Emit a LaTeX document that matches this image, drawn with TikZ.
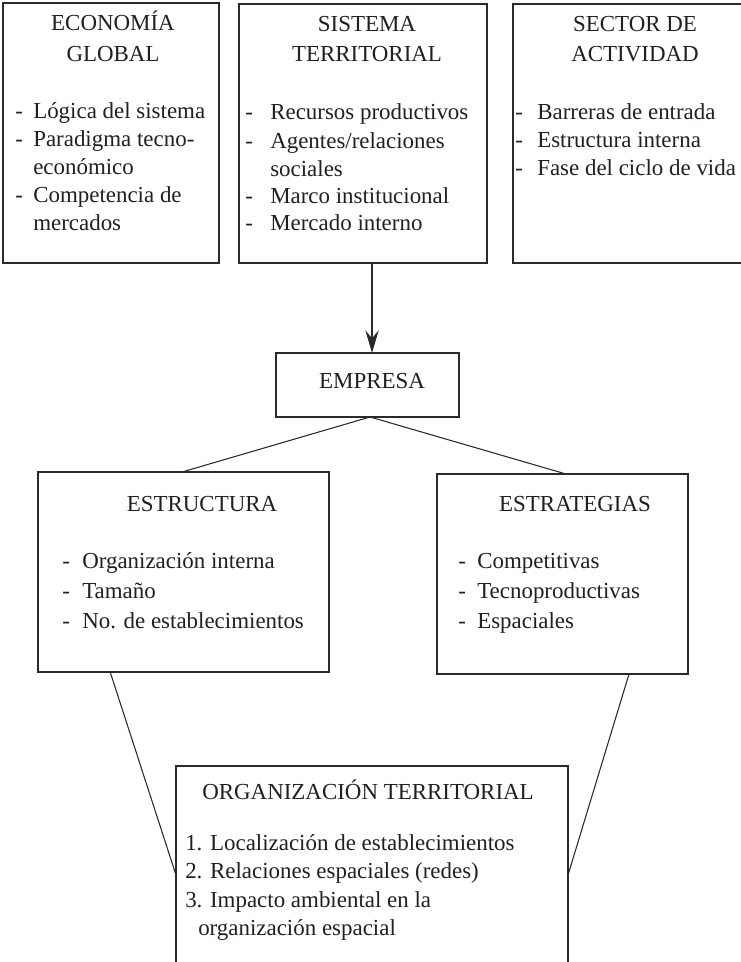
\documentclass[tikz,border=0pt]{standalone}
\usepackage{fontspec}
\setmainfont{Liberation Serif}
\usetikzlibrary{calc,arrows.meta}
\definecolor{ink}{HTML}{231F20}
\definecolor{linec}{HTML}{2A2A2A}
\newcommand\tline[4]{\node[txt] (#1) at (#2,#3) {#4};}
\newcommand\tcen[4]{\node[ttl] (#1) at (#2,#3) {#4};}
\begin{document}
\begin{tikzpicture}[x=0.75pt,y=-0.75pt,
  box/.style={draw=linec,line width=0.9pt,inner sep=0pt,outer sep=0pt,rectangle},
  txt/.style={anchor=base west,inner sep=0pt,text=ink,font=\fontsize{17.2}{20}\selectfont},
  ttl/.style={anchor=base,inner sep=0pt,text=ink,font=\fontsize{17.2}{20}\selectfont},
  conn/.style={draw=linec,line width=0.8pt},
  arr/.style={conn,line width=1.1pt,-{Stealth[length=17pt,width=10pt,inset=6pt]}}]
\useasboundingbox[fill=white] (0,0) rectangle (740,962);

% boxes
\node[box,minimum width=162pt,minimum height=195pt] (eco) at (111,133) {};
\node[box,minimum width=186pt,minimum height=194.25pt] (sis) at (363,133.5) {};
\node[box,minimum width=174pt,minimum height=194.25pt] (sec) at (629,133.5) {};
\node[box,minimum width=137.25pt,minimum height=48pt] (emp) at (367.5,385) {};
\node[box,minimum width=218.25pt,minimum height=150pt] (estr) at (183.5,572) {};
\node[box,minimum width=188.25pt,minimum height=150pt] (estg) at (562.5,574) {};
\node[box,minimum width=294pt,minimum height=163.5pt] (org) at (372,875) {};

% connectors
\coordinate (emptop) at ([xshift=3.4pt]emp.north);
\draw[arr] (sis.south -| emptop) -- (emptop);
\draw[conn] ([xshift=1.9pt]emp.south) -- ([xshift=-1.1pt]estr.north);
\draw[conn] ([xshift=1.9pt]emp.south) -- ([xshift=2.6pt]estg.north);
\draw[conn] ($(estr.south west)!0.248!(estr.south east)$) -- (org.west);
\draw[conn] ($(estg.south west)!0.765!(estg.south east)$) -- (org.east);

% ECONOMIA GLOBAL
\tcen{ecoA}{113}{31}{ECONOMÍA}
\tcen{ecoB}{113}{62}{GLOBAL}
\tline{ecoD1}{15}{119}{-}\tline{ecoT1}{33}{119}{Lógica del sistema}
\tline{ecoD2}{15}{147}{-}\tline{ecoT2}{33}{147}{Paradigma tecno-}
\tline{ecoT3}{33}{175}{económico}
\tline{ecoD4}{15}{203}{-}\tline{ecoT4}{33}{203}{Competencia de}
\tline{ecoT5}{33}{231}{mercados}

% SISTEMA TERRITORIAL
\tcen{sisA}{367}{32}{SISTEMA}
\tcen{sisB}{367}{62}{TERRITORIAL}
\tline{sisD1}{245}{120}{-}\tline{sisT1}{270}{120}{Recursos productivos}
\tline{sisD2}{245}{148.5}{-}\tline{sisT2}{270}{148.5}{Agentes/relaciones}
\tline{sisT3}{270}{177}{sociales}
\tline{sisD4}{245}{204}{-}\tline{sisT4}{270}{204}{Marco institucional}
\tline{sisD5}{245}{231}{-}\tline{sisT5}{270}{231}{Mercado interno}

% SECTOR DE ACTIVIDAD
\tcen{secA}{635}{32}{SECTOR DE}
\tcen{secB}{635}{62}{ACTIVIDAD}
\tline{secD1}{515}{120}{-}\tline{secT1}{537}{120}{Barreras de entrada}
\tline{secD2}{515}{148}{-}\tline{secT2}{537}{148}{Estructura interna}
\tline{secD3}{515}{176}{-}\tline{secT3}{537}{176}{Fase del ciclo de vida}

% EMPRESA
\tcen{empA}{372}{388}{EMPRESA}

% ESTRUCTURA
\tcen{estrA}{202}{511}{ESTRUCTURA}
\tline{estrD1}{62}{568}{-}\tline{estrT1}{82}{568}{Organización interna}
\tline{estrD2}{62}{598}{-}\tline{estrT2}{82}{598}{Tamaño}
\tline{estrD3}{62}{628}{-}\tline{estrT3}{82}{628}{No. de establecimientos}

% ESTRATEGIAS
\tcen{estgA}{575}{511}{ESTRATEGIAS}
\tline{estgD1}{458}{568}{-}\tline{estgT1}{477}{568}{Competitivas}
\tline{estgD2}{458}{598}{-}\tline{estgT2}{477}{598}{Tecnoproductivas}
\tline{estgD3}{458}{628}{-}\tline{estgT3}{477}{628}{Espaciales}

% ORGANIZACION TERRITORIAL
\tcen{orgA}{368}{799}{ORGANIZACIÓN TERRITORIAL}
\tline{orgT1}{185}{850}{1. Localización de establecimientos}
\tline{orgT2}{185}{878}{2. Relaciones espaciales (redes)}
\tline{orgT3}{185}{907}{3. Impacto ambiental en la}
\tline{orgT4}{198}{935}{organización espacial}
\end{tikzpicture}
\end{document}
